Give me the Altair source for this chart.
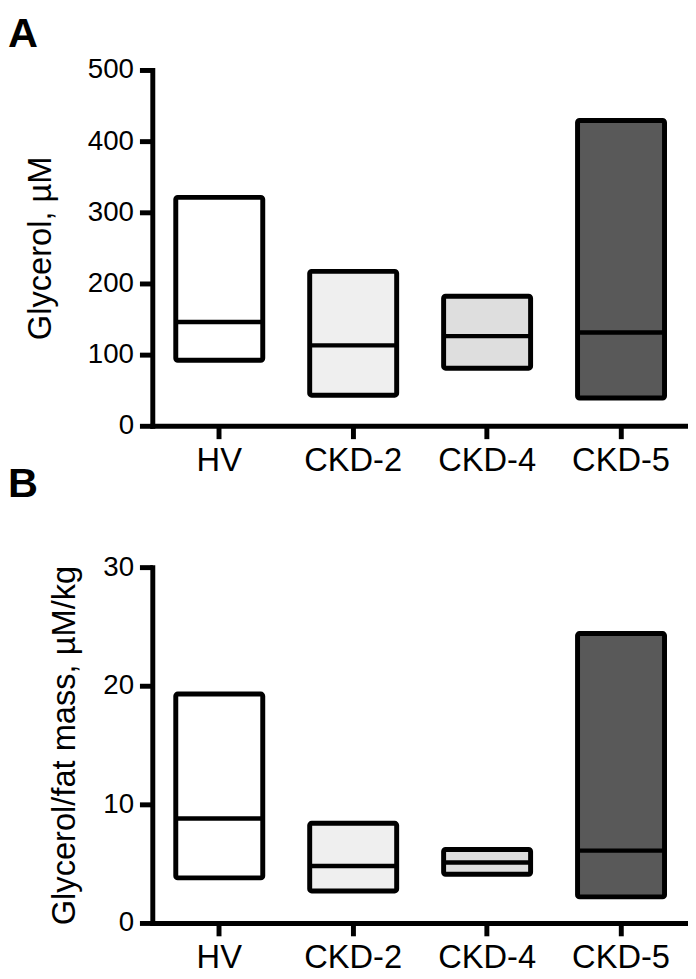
import altair as alt
import pandas as pd

groups = ["HV", "CKD-2", "CKD-4", "CKD-5"]
fills = ["#ffffff", "#efefef", "#dedede", "#595959"]

glycerol_min = [92, 43, 81, 39]
glycerol_median = [146, 113, 126, 131]
glycerol_max = [321, 217, 182, 429]

ratio_min = [3.8, 2.7, 4.1, 2.2]
ratio_median = [8.8, 4.8, 5.1, 6.1]
ratio_max = [19.3, 8.4, 6.2, 24.4]

glycerol_ticks = [0, 100, 200, 300, 400, 500]
ratio_ticks = [0, 10, 20, 30]
panel_letters = ["A", "B"]
axis_titles = ["Glycerol, µM", "Glycerol/fat mass, µM/kg"]

FONT = "Liberation Sans"
W, H = 542, 360


def panel(lo, med, hi, ticks, title, title_pad):
    df = pd.DataFrame({"group": groups, "lo": lo, "med": med, "hi": hi})
    xenc = alt.X(
        "group:N",
        sort=groups,
        scale=alt.Scale(paddingInner=0.35, paddingOuter=0.175),
        axis=alt.Axis(title=None, labelAngle=0, labelFontSize=33, labelPadding=6),
    )
    yscale = alt.Scale(domain=[ticks[0], ticks[-1]], nice=False)
    yenc = alt.Y(
        "lo:Q",
        scale=yscale,
        axis=alt.Axis(values=ticks, title=title, labelFontSize=28, labelPadding=6,
                      titlePadding=title_pad, format="d"),
    )
    bars = alt.Chart(df).mark_bar(
        size=88, stroke="black", strokeWidth=5, cornerRadius=2, strokeJoin="round"
    ).encode(
        x=xenc,
        y=yenc,
        y2="hi:Q",
        fill=alt.Fill("group:N", scale=alt.Scale(domain=groups, range=fills), legend=None),
    )
    medians = alt.Chart(df).mark_tick(size=88, thickness=4.5, color="black", opacity=1).encode(
        x=alt.X("group:N", sort=groups),
        y=alt.Y("med:Q", scale=yscale),
    )
    return bars + medians


def letter(text, yval):
    d = pd.DataFrame({"letter": [text]})
    return alt.Chart(d).mark_text(
        font=FONT, fontSize=42, fontWeight="bold", align="left", baseline="alphabetic",
        color="black",
    ).encode(text="letter:N", x=alt.value(-146), y=alt.value(yval))


top = alt.layer(
    panel(glycerol_min, glycerol_median, glycerol_max, glycerol_ticks, axis_titles[0], 30),
    letter(panel_letters[0], -23),
    letter(panel_letters[1], 432),
).properties(width=W, height=H)

bottom = panel(ratio_min, ratio_median, ratio_max, ratio_ticks, axis_titles[1], 22).properties(
    width=W, height=H
)

chart = alt.vconcat(top, bottom, spacing=49).properties(
    padding={"left": 0, "top": 0, "right": 0, "bottom": 0}
).configure_view(stroke=None).configure_axis(
    grid=False,
    domainColor="black",
    domainWidth=5,
    domainCap="square",
    tickColor="black",
    tickWidth=5,
    tickSize=13,
    labelColor="black",
    labelFont=FONT,
    titleFont=FONT,
    titleFontSize=33,
    titleFontWeight="normal",
    titleColor="black",
)

chart.save("out.html", embed_options={"renderer": "svg", "actions": False})
